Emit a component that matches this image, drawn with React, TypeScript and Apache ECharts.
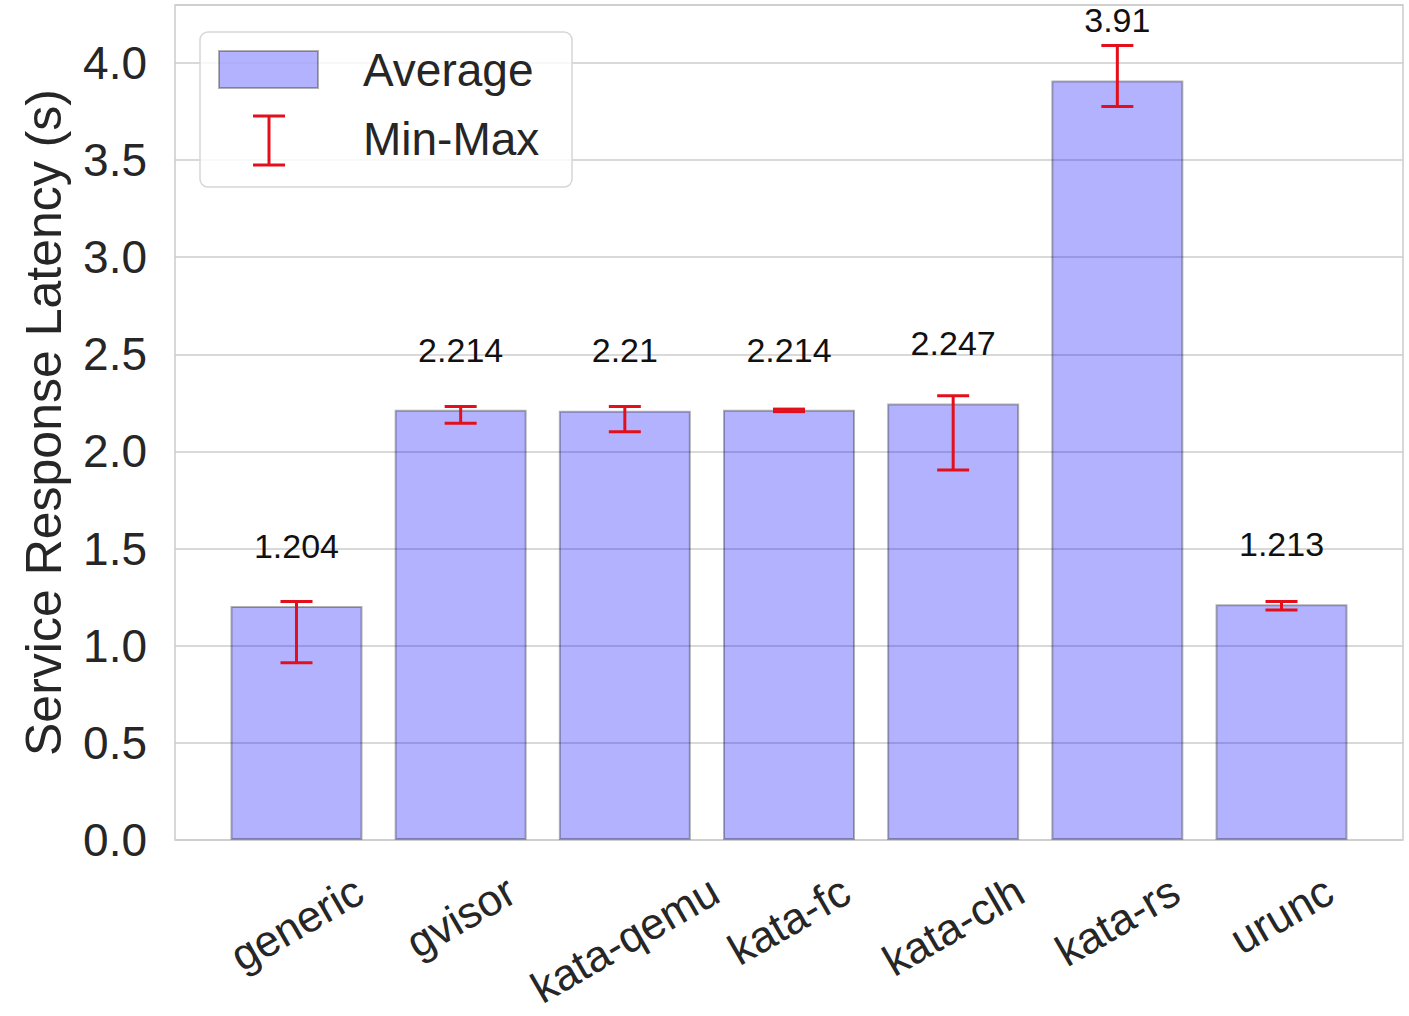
import React, { useEffect, useRef } from "react";
import * as echarts from "echarts";

const categories = ["generic", "gvisor", "kata-qemu", "kata-fc", "kata-clh", "kata-rs", "urunc"];
const averages = [1.204, 2.214, 2.21, 2.214, 2.247, 3.91, 1.213];
const minValues = [0.913, 2.145, 2.102, 2.205, 1.905, 3.775, 1.184];
const maxValues = [1.227, 2.231, 2.231, 2.218, 2.287, 4.089, 1.227];
const yMax = 4.298;
const yInterval = 0.5;
const labelOffset = 0.31;

const FONT = "'Liberation Sans', Arial, Helvetica, sans-serif";
const TEXT = "#262626";
const GRID = "#cccccc";
const BAR_FILL = "rgba(0,0,255,0.3)";
const BAR_EDGE = "rgba(0,0,0,0.3)";
const ERR = "#e3101c";

export default function App() {
  const ref = useRef<HTMLDivElement>(null);

  useEffect(() => {
    if (!ref.current) return;
    const chart = echarts.init(ref.current, null, { renderer: "svg" });

    const canvas = document.createElement("canvas");
    const ctx = canvas.getContext("2d");
    const xFontSize = 44;
    const measure = (t: string) => {
      if (!ctx) return t.length * xFontSize * 0.5;
      ctx.font = `${xFontSize}px 'Liberation Sans'`;
      return ctx.measureText(t).width;
    };

    const legendZ = 100;

    const option: any = {
      animation: false,
      backgroundColor: "#ffffff",
      grid: {
        left: 175,
        right: 6,
        top: 5,
        bottom: 176,
        show: true,
        borderColor: GRID,
        borderWidth: 1.5,
        backgroundColor: "transparent",
      },
      xAxis: {
        type: "value",
        min: -0.74,
        max: 6.74,
        axisLabel: { show: false },
        axisTick: { show: false },
        axisLine: { show: false },
        splitLine: { show: false },
      },
      yAxis: {
        type: "value",
        min: 0,
        max: yMax,
        interval: yInterval,
        name: "Service Response Latency (s)",
        nameLocation: "middle",
        nameGap: 106,
        nameTextStyle: { fontSize: 50, color: TEXT, fontFamily: FONT },
        axisLine: { show: false },
        axisTick: { show: false },
        axisLabel: {
          fontSize: 46,
          color: TEXT,
          fontFamily: FONT,
          margin: 28,
          showMaxLabel: false,
          formatter: (v: number) => v.toFixed(1),
        },
        splitLine: { show: true, lineStyle: { color: GRID, width: 1.5 } },
      },
      series: [
        {
          type: "bar",
          name: "Average",
          data: averages.map((v, i) => [i, v]),
          barWidth: 132,
          itemStyle: { color: BAR_FILL, borderColor: BAR_EDGE, borderWidth: 2 },
          z: 2,
        },
        {
          type: "custom",
          name: "Min-Max",
          data: minValues.map((m, i) => [i, m, maxValues[i]]),
          encode: { x: 0, y: [1, 2] },
          clip: false,
          z: 3,
          renderItem: (params: any, api: any) => {
            const i = api.value(0);
            const lo = api.coord([i, api.value(1)]);
            const hi = api.coord([i, api.value(2)]);
            const half = 16;
            const st = { stroke: ERR, lineWidth: 3 };
            return {
              type: "group",
              children: [
                { type: "line", shape: { x1: lo[0], y1: lo[1], x2: hi[0], y2: hi[1] }, style: st },
                { type: "line", shape: { x1: hi[0] - half, y1: hi[1], x2: hi[0] + half, y2: hi[1] }, style: st },
                { type: "line", shape: { x1: lo[0] - half, y1: lo[1], x2: lo[0] + half, y2: lo[1] }, style: st },
              ],
            };
          },
        },
        {
          type: "custom",
          name: "values",
          data: averages.map((v, i) => [i, v]),
          encode: { x: 0, y: 1 },
          clip: false,
          z: 4,
          renderItem: (params: any, api: any) => {
            const i = api.value(0);
            const v = api.value(1);
            const p = api.coord([i, v + labelOffset]);
            return {
              type: "text",
              x: p[0],
              y: p[1],
              style: {
                text: String(averages[params.dataIndex]),
                fill: "#111111",
                fontSize: 34,
                fontFamily: FONT,
                align: "center",
                verticalAlign: "middle",
              },
            };
          },
        },
        {
          type: "custom",
          name: "xlabels",
          data: categories.map((c, i) => [i, 0]),
          encode: { x: 0, y: 1 },
          clip: false,
          silent: true,
          z: 4,
          renderItem: (params: any, api: any) => {
            const i = api.value(0);
            const base = api.coord([i, 0]);
            const name = categories[params.dataIndex];
            const L = measure(name);
            const H = xFontSize;
            const ang = Math.PI / 6;
            const bboxH = L * Math.sin(ang) + H * Math.cos(ang);
            const cy = base[1] + 28 + bboxH / 2;
            return {
              type: "text",
              x: base[0],
              y: cy,
              rotation: ang,
              style: {
                text: name,
                fill: TEXT,
                fontSize: xFontSize,
                fontFamily: FONT,
                align: "center",
                verticalAlign: "middle",
              },
            };
          },
        },
      ],
      graphic: [
        {
          type: "rect",
          z: legendZ,
          shape: { x: 200, y: 32, width: 372, height: 155, r: 8 },
          style: { fill: "rgba(255,255,255,0.8)", stroke: "#d6d6d6", lineWidth: 1.5 },
        },
        {
          type: "rect",
          z: legendZ + 1,
          shape: { x: 219, y: 51, width: 99, height: 37 },
          style: { fill: BAR_FILL, stroke: BAR_EDGE, lineWidth: 2 },
        },
        {
          type: "line",
          z: legendZ + 1,
          shape: { x1: 269, y1: 116, x2: 269, y2: 165 },
          style: { stroke: ERR, lineWidth: 3 },
        },
        {
          type: "line",
          z: legendZ + 1,
          shape: { x1: 253, y1: 116, x2: 285, y2: 116 },
          style: { stroke: ERR, lineWidth: 3 },
        },
        {
          type: "line",
          z: legendZ + 1,
          shape: { x1: 253, y1: 165, x2: 285, y2: 165 },
          style: { stroke: ERR, lineWidth: 3 },
        },
        {
          type: "text",
          z: legendZ + 1,
          x: 363,
          y: 70,
          style: {
            text: "Average",
            fill: TEXT,
            fontSize: 46,
            fontFamily: FONT,
            align: "left",
            verticalAlign: "middle",
          },
        },
        {
          type: "text",
          z: legendZ + 1,
          x: 363,
          y: 139,
          style: {
            text: "Min-Max",
            fill: TEXT,
            fontSize: 46,
            fontFamily: FONT,
            align: "left",
            verticalAlign: "middle",
          },
        },
      ],
    };

    chart.setOption(option);
    return () => chart.dispose();
  }, []);

  return (
    <div
      ref={ref}
      style={{ position: "fixed", left: 0, top: 0, width: 1409, height: 1016, background: "#fff" }}
    />
  );
}
